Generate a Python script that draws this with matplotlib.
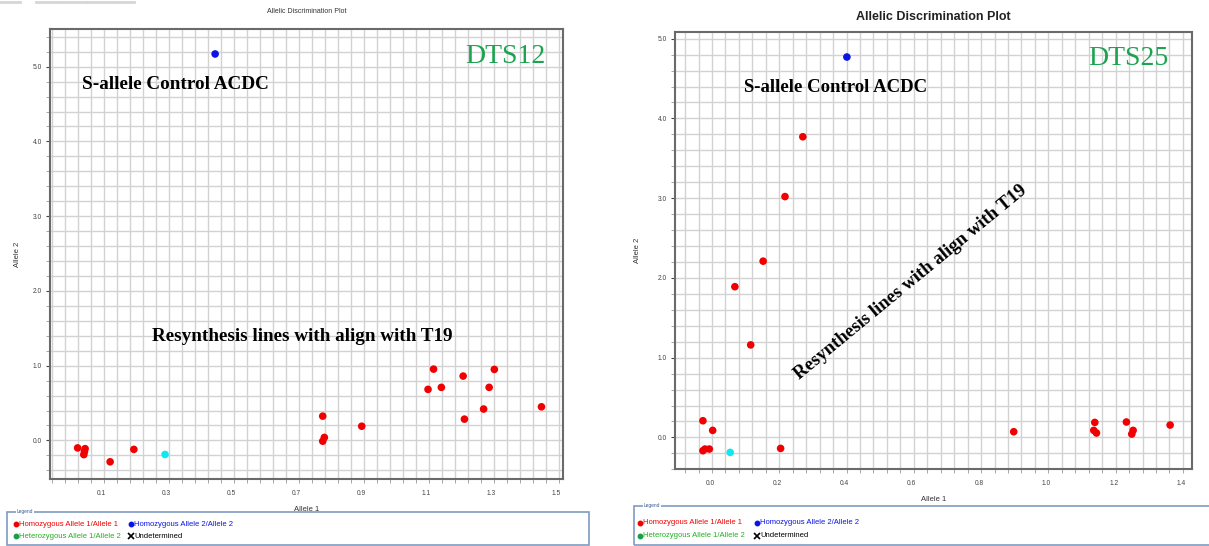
import numpy as np
import matplotlib.pyplot as plt
from matplotlib.ticker import MultipleLocator, FormatStrFormatter
from matplotlib.patches import Rectangle
from matplotlib.lines import Line2D

plt.rcParams['font.family'] = ['Liberation Sans', 'DejaVu Sans']

# DTS12 (left panel)
dts12_hom1_x = [0.028, 0.051, 0.049, 0.047, 0.128, 0.201, 0.782, 0.787, 0.782, 0.902,
                1.106, 1.123, 1.147, 1.214, 1.218, 1.277, 1.294, 1.310, 1.455]
dts12_hom1_y = [-0.10, -0.11, -0.15, -0.19, -0.286, -0.12, 0.325, 0.04, -0.01, 0.19,
                0.683, 0.954, 0.71, 0.861, 0.285, 0.42, 0.71, 0.95, 0.45]
dts12_hom2_x = [0.451]
dts12_hom2_y = [5.17]
dts12_ntc_x = [0.297]
dts12_ntc_y = [-0.188]

# DTS25 (right panel)
dts25_hom1_x = [-0.021, 0.008, -0.021, -0.015, -0.002, 0.210, 0.074, 0.121, 0.158, 0.223,
                0.276, 0.903, 1.144, 1.141, 1.149, 1.238, 1.258, 1.254, 1.368]
dts25_hom1_y = [0.209, 0.088, -0.167, -0.146, -0.146, -0.138, 1.89, 1.16, 2.21, 3.02,
                3.77, 0.071, 0.188, 0.088, 0.055, 0.193, 0.088, 0.042, 0.155]
dts25_hom2_x = [0.407]
dts25_hom2_y = [4.77]
dts25_ntc_x = [0.060]
dts25_ntc_y = [-0.188]

legend_labels = ['Homozygous Allele 1/Allele 1', 'Homozygous Allele 2/Allele 2',
                 'Heterozygous Allele 1/Allele 2', 'Undetermined']

RED = '#f00000'
BLUE = '#0a14e6'
CYAN = '#10e8f0'
GREEN = '#18a048'
TXTGREEN = '#1ba34f'
FRAME = '#6a6a6a'
GRID = '#d2d2d2'

W, H = 1209, 546
fig = plt.figure(figsize=(W / 100, H / 100), dpi=100)

# faint toolbar remnants along the top-left edge
for a, b in [(0, 20), (36, 59), (61, 86), (87, 111), (113, 134)]:
    fig.add_artist(Line2D([a / W, b / W], [1 - 1.5 / H, 1 - 1.5 / H],
                          transform=fig.transFigure, color='#d6d6d6', lw=2))


def px_axes(x0, y0, x1, y1):
    return fig.add_axes([x0 / W, 1 - y1 / H, (x1 - x0) / W, (y1 - y0) / H])


def style(ax, xlim, ylim, xmajor_off, xminor_off):
    ax.set_xlim(*xlim)
    ax.set_ylim(*ylim)
    ax.xaxis.set_major_locator(MultipleLocator(0.2, offset=xmajor_off))
    ax.xaxis.set_minor_locator(MultipleLocator(0.04, offset=xminor_off))
    ax.yaxis.set_major_locator(MultipleLocator(1.0))
    ax.yaxis.set_minor_locator(MultipleLocator(0.2))
    ax.xaxis.set_major_formatter(FormatStrFormatter('%.1f'))
    ax.yaxis.set_major_formatter(FormatStrFormatter('%.1f'))
    ax.grid(True, which='minor', axis='x', color=GRID, lw=1.0)
    ax.grid(True, which='both', axis='y', color=GRID, lw=1.0)
    ax.set_axisbelow(True)
    ax.tick_params(axis='x', which='major', length=0, labelsize=4.8, colors='#444444', pad=8)
    ax.tick_params(axis='y', which='major', length=3, labelsize=4.8, colors='#444444', pad=3)
    ax.tick_params(which='minor', length=3, color='#999999')
    for s in ax.spines.values():
        s.set_color(FRAME)
        s.set_linewidth(1.5)


def draw_points(ax, hx, hy, bx, by, cx, cy):
    ax.scatter(hx, hy, s=30, color=RED, edgecolors='none', zorder=3)
    ax.scatter(bx, by, s=30, color=BLUE, edgecolors='none', zorder=3)
    ax.scatter(cx, cy, s=30, color=CYAN, edgecolors='none', zorder=3)


# ---------- left panel ----------
ax1 = px_axes(50, 29.3, 562.6, 479.3)
style(ax1, (-0.057, 1.52), (-0.52, 5.50), 0.1, 0.028)
draw_points(ax1, dts12_hom1_x, dts12_hom1_y, dts12_hom2_x, dts12_hom2_y, dts12_ntc_x, dts12_ntc_y)
ax1.set_title('Allelic Discrimination Plot', fontsize=5, color='#333333', pad=12)
ax1.set_xlabel('Allele 1', fontsize=5.5, color='#333333', labelpad=6)
ax1.set_ylabel('Allele 2', fontsize=5.5, color='#333333', labelpad=8)
ax1.text(0.966, 0.94, 'DTS12', transform=ax1.transAxes, ha='right', va='center',
         fontsize=20, color=TXTGREEN, family='Liberation Serif')
ax1.text(0.063, 0.877, 'S-allele Control ACDC', transform=ax1.transAxes, ha='left', va='center',
         fontsize=13.8, fontweight='bold', family='Liberation Serif')
ax1.text(0.492, 0.318, 'Resynthesis lines with align with T19', transform=ax1.transAxes,
         ha='center', va='center', fontsize=13.8, fontweight='bold', family='Liberation Serif')

# ---------- right panel ----------
ax2 = px_axes(675, 32.3, 1192, 469.3)
style(ax2, (-0.104, 1.433), (-0.40, 5.08), 0.0, 0.006)
draw_points(ax2, dts25_hom1_x, dts25_hom1_y, dts25_hom2_x, dts25_hom2_y, dts25_ntc_x, dts25_ntc_y)
ax2.set_title('Allelic Discrimination Plot', fontsize=9, fontweight='bold', color='#222222', pad=9)
ax2.set_xlabel('Allele 1', fontsize=5.5, color='#333333', labelpad=6)
ax2.set_ylabel('Allele 2', fontsize=5.5, color='#333333', labelpad=12)
ax2.text(0.955, 0.94, 'DTS25', transform=ax2.transAxes, ha='right', va='center',
         fontsize=20, color=TXTGREEN, family='Liberation Serif')
ax2.text(0.134, 0.874, 'S-allele Control ACDC', transform=ax2.transAxes, ha='left', va='center',
         fontsize=13.5, fontweight='bold', family='Liberation Serif')
ax2.text(0.455, 0.427, 'Resynthesis lines with align with T19', transform=ax2.transAxes,
         ha='center', va='center', rotation=39.5, rotation_mode='anchor',
         fontsize=13.5, fontweight='bold', family='Liberation Serif')


# ---------- legend boxes ----------
def legend_box(x0, y0, x1, y1, row1, row2, col1, col2):
    fig.add_artist(Rectangle((x0 / W, 1 - y1 / H), (x1 - x0) / W, (y1 - y0) / H,
                             transform=fig.transFigure, fill=False, ec='#7f9cc0', lw=1.2,
                             clip_on=False))
    fig.text((x0 + 10) / W, 1 - y0 / H, 'Legend', fontsize=3.5, color='#3a5a90',
             va='center', ha='left', bbox=dict(fc='white', ec='none', pad=0.5))
    items = [(col1, row1, RED, 'o', legend_labels[0]),
             (col2, row1, BLUE, 'o', legend_labels[1]),
             (col1, row2, GREEN, 'o', legend_labels[2]),
             (col2, row2, 'black', 'x', legend_labels[3])]
    for xx, yy, c, m, lab in items:
        fig.add_artist(Line2D([xx / W], [1 - yy / H], transform=fig.transFigure,
                              marker=m, color=c, ms=3 if m == 'o' else 4,
                              mew=1.2, ls='none'))
        fig.text((xx + 3) / W, 1 - yy / H, lab, fontsize=5.5,
                 color=c if c != GREEN else '#22b022', va='center', ha='left')


legend_box(7, 512, 589, 545, 524, 536, 16, 131)
legend_box(634, 506, 1216, 545, 522.7, 535.7, 640, 757)

fig.savefig('out.png', dpi=100)
